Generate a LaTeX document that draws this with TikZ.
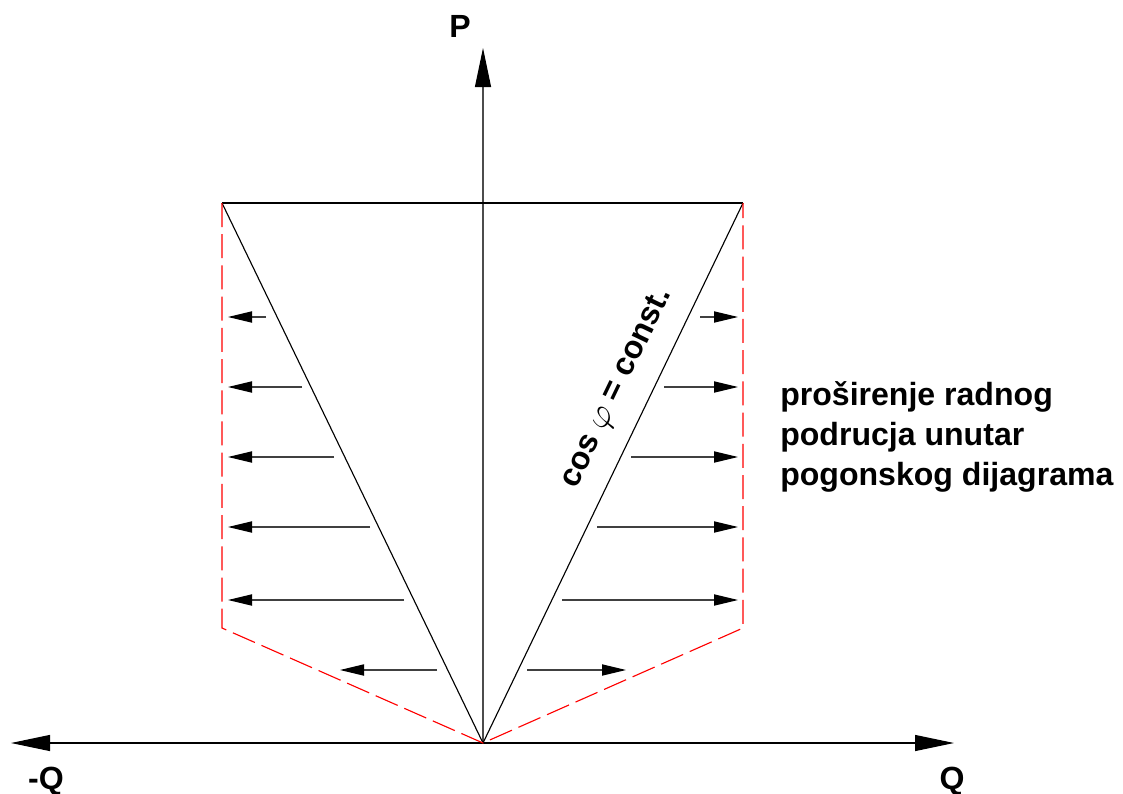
\documentclass[tikz,border=0pt]{standalone}
\usepackage{fontspec}
\setmainfont{Liberation Sans}
\usetikzlibrary{arrows.meta,calc}
\tikzset{
  axis/.style   ={line width=0.8pt,-{Triangle[length=0.975cm,width=0.4cm,black]}},
  bnd/.style    ={line width=0.8pt},
  ext/.style    ={line width=0.8pt,red,dash pattern=on 0.6cm off 0.18cm},
  widen/.style  ={line width=0.8pt,black!75,-{Triangle[length=0.6cm,width=0.28cm,black]}},
  lbl/.style    ={font=\fontsize{22.8}{28.5}\selectfont\bfseries,inner sep=0pt},
}
\newcommand{\phibig}{{\fontsize{29}{29}\selectfont$\varphi$}}
\begin{document}
\begin{tikzpicture}[x=0.025cm,y=-0.025cm]
  \useasboundingbox (0,0) rectangle (1123,794);
  % axes
  \coordinate (O)    at (483,743);
  \coordinate (Ptip) at (483,48);
  \coordinate (Qneg) at (11,743);
  \coordinate (Qpos) at (954,743);
  \draw[axis,black!70] (O) -- (Ptip);
  \draw[axis] (O) -- (Qneg);
  \draw[axis] (O) -- (Qpos);
  \node[lbl] (P)  at (460,26)  {P};
  \node[lbl] (mQ) at (46,781)  {-Q};
  \node[lbl] (Q)  at (952,781) {Q};
  % operating diagram
  \coordinate (TL) at (222,203);
  \coordinate (TR) at (743,203);
  \coordinate (BL) at (222,628);
  \coordinate (BR) at (743,628);
  \draw[bnd] (TL) -- (TR);
  \draw[bnd] (O) -- (TL);
  \draw[bnd] (O) -- node[lbl,pos=0.63,sloped,above=13pt]{cos \phibig{} = const.} (TR);
  % extended region
  \draw[ext] (TL) -- (BL) -- (O) -- (BR) -- (TR);
  \foreach \y/\xa/\xb in {317/266/228,387/302/228,457/334/228,527/370/228,
                          600/404/228,670/437/340,
                          317/700/738,387/664/738,457/631/738,527/597/738,
                          600/562/738,670/527/626}
    \draw[widen] (\xa,\y) -- (\xb,\y);
  \node[lbl,anchor=west,align=left] (txt) at (780,437)
       {proširenje radnog\\podrucja unutar\\pogonskog dijagrama};
\end{tikzpicture}
\end{document}
